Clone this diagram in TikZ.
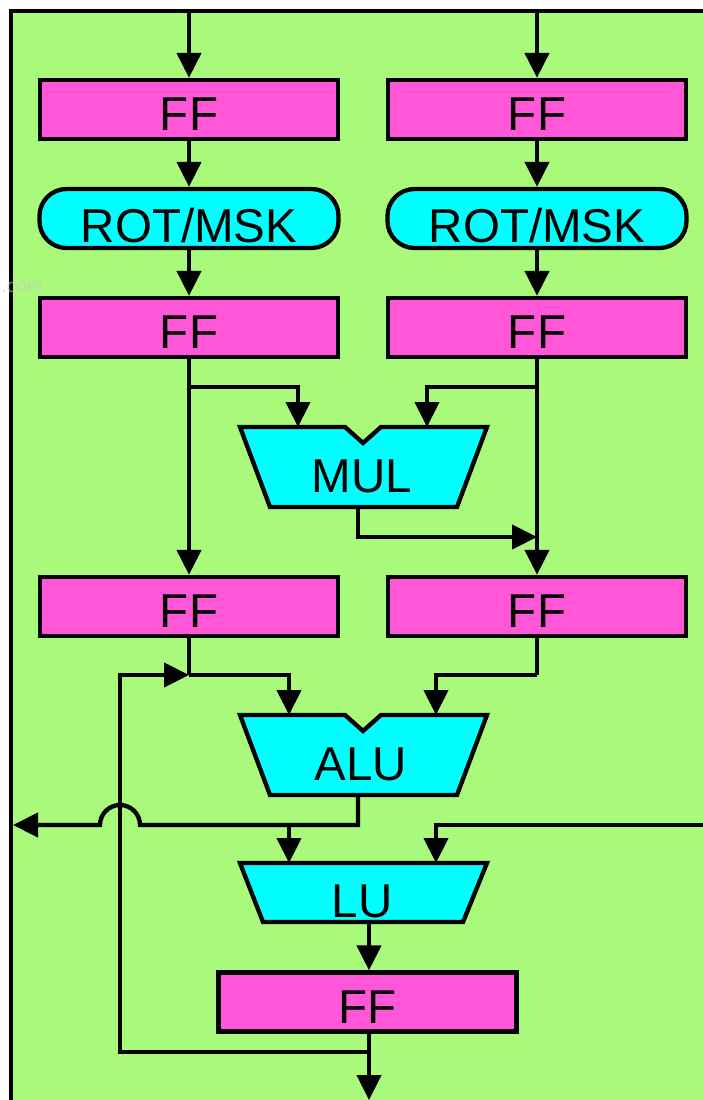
\documentclass[tikz,border=0pt]{standalone}
\usepackage{fontspec}
\setmainfont{Liberation Sans}
\usetikzlibrary{arrows.meta}
\definecolor{bggreen}{RGB}{169,250,122}
\definecolor{ffpink}{RGB}{255,87,216}
\definecolor{unitcyan}{RGB}{0,255,255}
\definecolor{markgray}{RGB}{200,200,200}

\begin{document}
\begin{tikzpicture}[x=1pt,y=-1pt,
  wire/.style={line width=4.3pt},
  flow/.style={wire,-{Triangle[length=25pt,width=24pt]}},
  bigfont/.style={font=\fontsize{47.5}{48}\selectfont},
  ffbox/.style={draw,line width=4.3pt,fill=ffpink,minimum width=298pt,
    minimum height=59pt,inner sep=0pt,text height=42pt,text depth=0pt,bigfont},
  rotbox/.style={draw,line width=4.3pt,fill=unitcyan,rounded corners=27pt,
    minimum width=299pt,minimum height=59pt,inner sep=0pt,text height=48pt,
    text depth=0pt,bigfont},
  unitshape/.style={draw,line width=4.3pt,fill=unitcyan,line join=miter},
  unitlabel/.style={inner sep=0pt,bigfont}
]
\useasboundingbox (0,0) rectangle (703,1100);

% panel background and frame
\fill[white] (0,0) rectangle (703,1100);
\draw[line width=4.3pt,fill=bggreen] (11,11) rectangle (730,1130);
\node[text=markgray,text opacity=0.6,font=\fontsize{19}{19}\selectfont,
  anchor=base east,inner sep=0pt] (mark) at (43,292) {.com};

% register and rotate/mask stages
\node[ffbox] (ffL1) at (189,109.5) {FF};
\node[ffbox] (ffR1) at (537,109.5) {FF};
\node[rotbox] (rotL) at (189,218.5) {ROT/MSK};
\node[rotbox] (rotR) at (537,218.5) {ROT/MSK};
\node[ffbox] (ffL2) at (189,327.5) {FF};
\node[ffbox] (ffR2) at (537,327.5) {FF};
\node[ffbox] (ffL3) at (189,606.5) {FF};
\node[ffbox] (ffR3) at (537,606.5) {FF};
\node[ffbox] (ff4) at (367.5,1002) {FF};

% multiplier
\draw[unitshape] (240,427) -- (345,427) -- (363,443) -- (381,427) -- (487,427)
  -- (457,507) -- (270,507) -- cycle;
\node[unitlabel] (mul) at (362,476.5) {MUL};
\coordinate (mulA) at (298,427);
\coordinate (mulB) at (427,427);
\coordinate (mulOut) at (358,507);

% ALU
\draw[unitshape] (240,715) -- (345,715) -- (363,731) -- (381,715) -- (487,715)
  -- (457,795) -- (270,795) -- cycle;
\node[unitlabel] (alu) at (361,764.5) {ALU};
\coordinate (aluA) at (289,715);
\coordinate (aluB) at (436,715);
\coordinate (aluOut) at (358,795);

% LU
\draw[unitshape] (240,863) -- (487,863) -- (463,922) -- (263,922) -- cycle;
\node[unitlabel] (lu) at (362,901) {LU};
\coordinate (luA) at (289,863);
\coordinate (luB) at (436,863);
\coordinate (luOut) at (369,922);

% junctions and free ends
\coordinate (inL) at (189,11);
\coordinate (inR) at (537,11);
\coordinate (jL2) at (189,387);
\coordinate (jR2) at (537,387);
\coordinate (jMul) at (537,537);
\coordinate (jL3) at (189,675);
\coordinate (jR3) at (537,675);
\coordinate (fbTurn) at (120,675);
\coordinate (jOut) at (369,1052);
\coordinate (hopR) at (140,825);
\coordinate (resOut) at (13,825);
\coordinate (jAlu) at (289,825);
\coordinate (extIn) at (730,825);
\coordinate (finalOut) at (369,1100);

% data flow
\draw[flow] (inL) -- (ffL1.north);
\draw[flow] (inR) -- (ffR1.north);
\draw[flow] (ffL1.south) -- (rotL.north);
\draw[flow] (ffR1.south) -- (rotR.north);
\draw[flow] (rotL.south) -- (ffL2.north);
\draw[flow] (rotR.south) -- (ffR2.north);
\draw[flow] (ffL2.south) -- (ffL3.north);
\draw[flow] (ffR2.south) -- (ffR3.north);
\draw[flow] (jL2) -| (mulA);
\draw[flow] (jR2) -| (mulB);
\draw[flow] (mulOut) |- (jMul);
\draw[wire] (ffL3.south) -- (jL3);
\draw[flow] (jL3) -| (aluA);
\draw[wire] (ffR3.south) -- (jR3);
\draw[flow] (jR3) -| (aluB);
\draw[flow] (aluOut) |- (hopR) arc[start angle=0,end angle=180,radius=20pt] -- (resOut);
\draw[flow] (jAlu) -- (luA);
\draw[flow] (extIn) -| (luB);
\draw[flow] (luOut) -- (luOut |- ff4.north);
\draw[flow] (finalOut |- ff4.south) -- (finalOut);
\draw[flow] (jOut) -| (fbTurn) -- (jL3);
\end{tikzpicture}
\end{document}
